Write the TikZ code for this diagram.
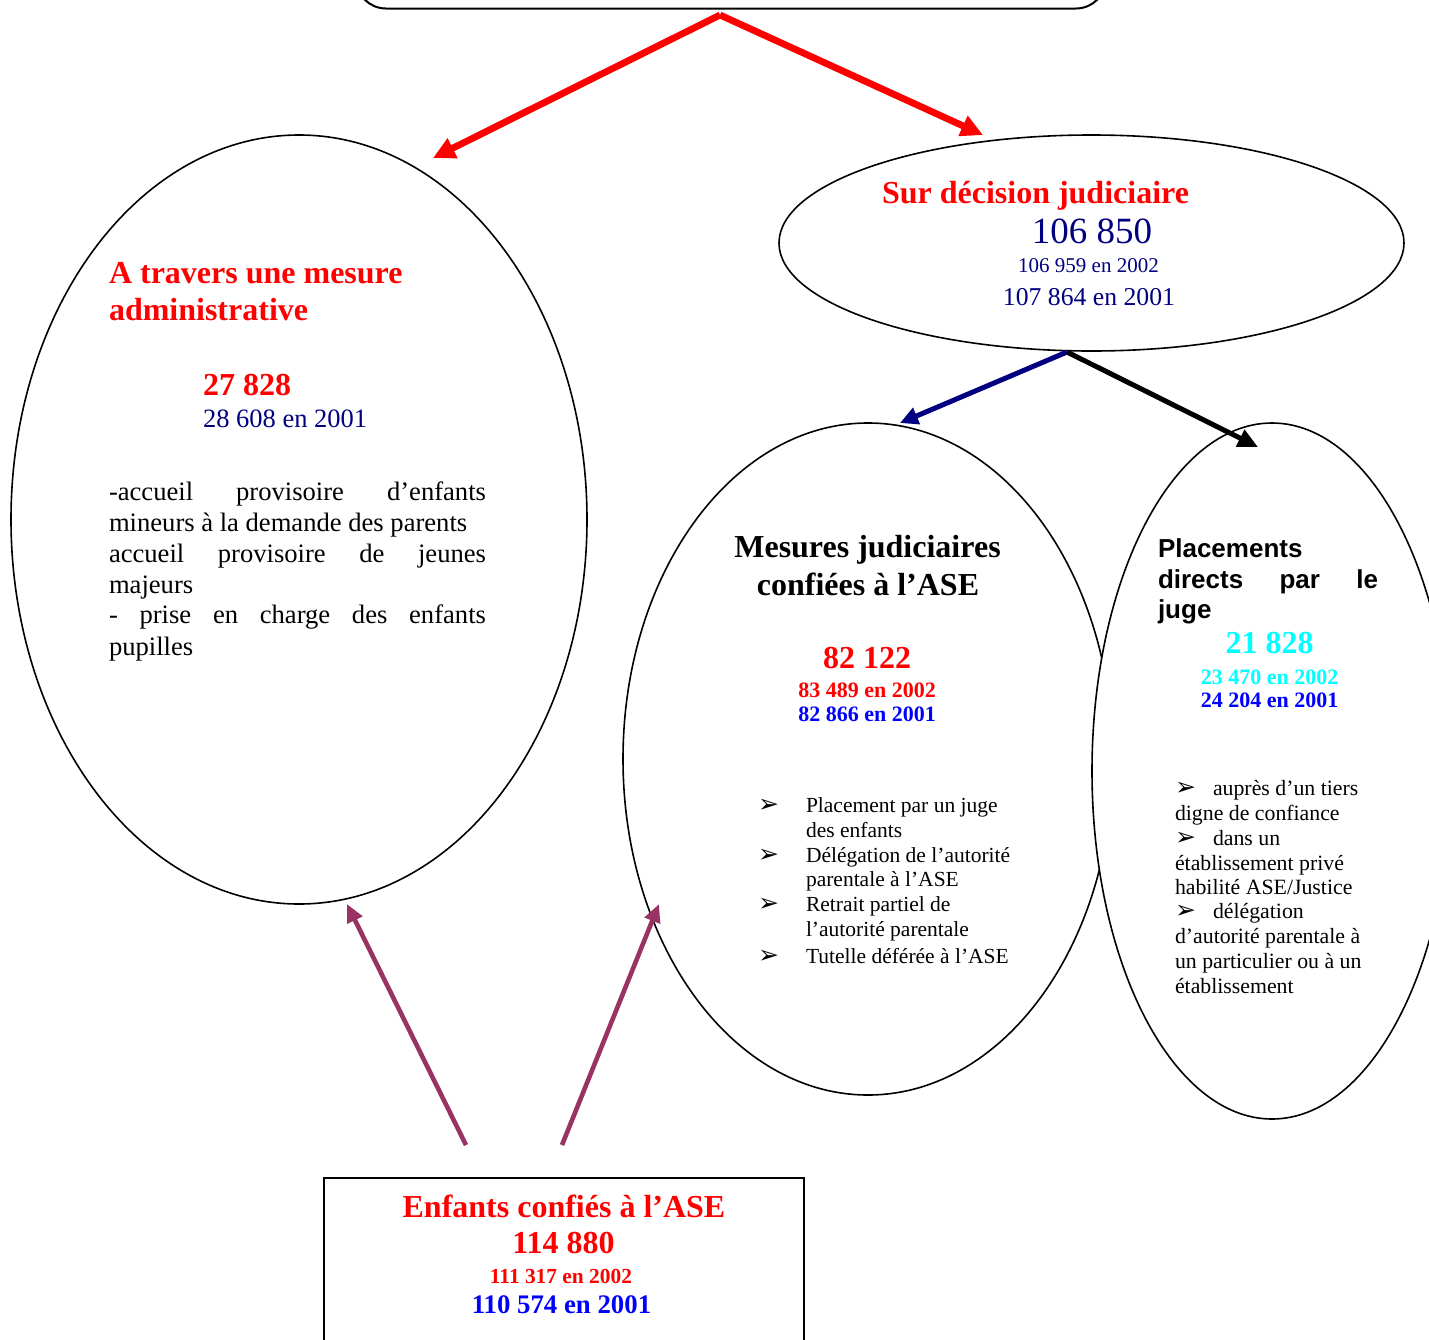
\documentclass[tikz,border=0pt]{standalone}
\usepackage{fontspec}
\setmainfont{Liberation Serif}
\newfontfamily\arialf{Liberation Sans}
\newfontfamily\dvf{DejaVu Sans}
\usetikzlibrary{shapes.geometric,arrows.meta}
\definecolor{cred}{HTML}{FF0000}
\definecolor{cnavy}{HTML}{000080}
\definecolor{cblue}{HTML}{0000FF}
\definecolor{ccyan}{HTML}{00FFFF}
\definecolor{cpurp}{HTML}{993366}
\newcommand{\fsz}[1]{\fontsize{#1pt}{#1pt}\selectfont}
\newcommand{\bul}{{\dvf\fontsize{12.5pt}{12.5pt}\selectfont ➢}}
\begin{document}
\begin{tikzpicture}[x=0.5pt,y=-0.5pt,
  txt/.style={inner sep=0pt, outer sep=0pt},
  tb/.style={txt, anchor=base},
  tl/.style={txt, anchor=base west},
  oval/.style={draw, ellipse, line width=0.8pt, inner sep=0pt, outer sep=0pt},
  redarr/.style={draw=cred, line width=3.4pt, -{Triangle[length=11pt,width=10.5pt]}},
  navarr/.style={draw=cnavy, line width=2.5pt, -{Triangle[length=9pt,width=8.5pt]}},
  blkarr/.style={draw=black, line width=2.5pt, -{Triangle[length=10pt,width=9pt]}},
  purarr/.style={draw=cpurp, line width=2.3pt, -{Triangle[length=9pt,width=8pt]}}]
\useasboundingbox (0,0) rectangle (1429,1339);
\begin{scope}
\clip (0,0) rectangle (1429,1339);
% shapes
\node[draw, line width=1pt, rounded corners=15pt, minimum width=375pt, minimum height=40pt, inner sep=0pt, anchor=south west] (top) at (355,9.5) {};
\node[oval, minimum width=288pt, minimum height=384.5pt] (adm) at (299,519.5) {};
\node[oval, minimum width=312.5pt, minimum height=108pt] (jud) at (1091.5,243) {};
\node[oval, minimum width=245pt, minimum height=336pt] (mes) at (868,759) {};
\node[oval, fill=white, minimum width=180pt, minimum height=348pt] (plc) at (1272,771) {};
\node[draw, line width=1pt, minimum width=240pt, minimum height=100pt, inner sep=0pt, anchor=north west] (enf) at (323,1177) {};

% connector ends
\coordinate (topout) at (720,15);
\coordinate (admin) at (433,158);
\coordinate (judin) at (983,135);
\coordinate (judout) at (1067,352);
\coordinate (mesin) at (900,423);
\coordinate (plcin) at (1258,447);
\coordinate (enfoutL) at (466,1145);
\coordinate (enfoutR) at (562,1145);
\coordinate (adminB) at (347,904);
\coordinate (mesinB) at (659,904);

\draw[redarr] (topout) -- (admin);
\draw[redarr] (topout) -- (judin);
\draw[navarr] (judout) -- (mesin);
\draw[blkarr] (judout) -- (plcin);
\draw[purarr] (enfoutL) -- (adminB);
\draw[purarr] (enfoutR) -- (mesinB);

% jud texts
\node[tb, font=\bfseries\fsz{16}, text=cred] (j1) at (1035.5,203) {Sur décision judiciaire};
\node[tb, font=\fsz{18.5}, text=cnavy] (j2) at (1092,243) {106 850};
\node[tb, font=\fsz{10.5}, text=cnavy] (j3) at (1088.5,272) {106 959 en 2002};
\node[tb, font=\fsz{12.85}, text=cnavy] (j4) at (1089,305) {107 864 en 2001};

% adm texts
\node[tl, font=\bfseries\fsz{16}, text=cred] (a1) at (109,283) {A travers une mesure};
\node[tl, font=\bfseries\fsz{16}, text=cred] (a2) at (109,320.5) {administrative};
\node[tl, font=\bfseries\fsz{16}, text=cred] (a3) at (203,395) {27 828};
\node[tl, font=\fsz{13.25}, text=cnavy] (a4) at (203,427) {28 608 en 2001};
\node[tl, font=\fsz{13.3}] (b1) at (109,500) {\makebox[188.5pt][s]{-accueil provisoire d’enfants}};
\node[tl, font=\fsz{13.3}] (b2) at (109,531.5) {mineurs à la demande des parents};
\node[tl, font=\fsz{13.3}] (b3) at (109,562) {\makebox[188.5pt][s]{accueil provisoire de jeunes}};
\node[tl, font=\fsz{13.3}] (b4) at (109,593) {majeurs};
\node[tl, font=\fsz{13.3}] (b5) at (109,623.5) {\makebox[188.5pt][s]{- prise en charge des enfants}};
\node[tl, font=\fsz{13.3}] (b6) at (109,655) {pupilles};

% mes texts
\node[tb, font=\bfseries\fsz{16}] (m1) at (867.5,557) {Mesures judiciaires};
\node[tb, font=\bfseries\fsz{16}] (m2) at (868,595) {confiées à l’ASE};
\node[tb, font=\bfseries\fsz{16}, text=cred] (m3) at (867,668) {82 122};
\node[tb, font=\bfseries\fsz{11}, text=cred] (m4) at (867,697) {83 489 en 2002};
\node[tb, font=\bfseries\fsz{11}, text=cblue] (m5) at (867,721) {82 866 en 2001};
\node[tl, font=\fsz{10.75}] (mb1) at (758,812) {\rlap{\bul}\hspace{24pt}Placement par un juge};
\node[tl, font=\fsz{10.75}] (mb2) at (806,837) {des enfants};
\node[tl, font=\fsz{10.75}] (mb3) at (758,862) {\rlap{\bul}\hspace{24pt}Délégation de l’autorité};
\node[tl, font=\fsz{10.75}] (mb4) at (806,886) {parentale à l’ASE};
\node[tl, font=\fsz{10.75}] (mb5) at (758,911) {\rlap{\bul}\hspace{24pt}Retrait partiel de};
\node[tl, font=\fsz{10.75}] (mb6) at (806,936) {l’autorité parentale};
\node[tl, font=\fsz{10.75}] (mb7) at (758,963) {\rlap{\bul}\hspace{24pt}Tutelle déférée à l’ASE};

% plc texts
\node[tl, font=\arialf\bfseries\fsz{13}] (p1) at (1158,557) {Placements};
\node[tl, font=\arialf\bfseries\fsz{13}] (p2) at (1158,588) {\makebox[110pt][s]{directs par le}};
\node[tl, font=\arialf\bfseries\fsz{13}] (p3) at (1158,618) {juge};
\node[tb, font=\bfseries\fsz{16}, text=ccyan] (p4) at (1269.5,653) {21 828};
\node[tb, font=\bfseries\fsz{11}, text=ccyan] (p5) at (1269.5,684) {23 470 en 2002};
\node[tb, font=\bfseries\fsz{11}, text=cblue] (p6) at (1269.5,707) {24 204 en 2001};
\node[tl, font=\fsz{10.9}] (pb1) at (1175,795) {\rlap{\bul}\hspace{19pt}auprès d’un tiers};
\node[tl, font=\fsz{10.9}] (pb2) at (1175,820) {digne de confiance};
\node[tl, font=\fsz{10.9}] (pb3) at (1175,845) {\rlap{\bul}\hspace{19pt}dans un};
\node[tl, font=\fsz{10.9}] (pb4) at (1175,870) {établissement privé};
\node[tl, font=\fsz{10.9}] (pb5) at (1175,894) {habilité ASE/Justice};
\node[tl, font=\fsz{10.9}] (pb6) at (1175,918) {\rlap{\bul}\hspace{19pt}délégation};
\node[tl, font=\fsz{10.9}] (pb7) at (1175,943) {d’autorité parentale à};
\node[tl, font=\fsz{10.9}] (pb8) at (1175,968) {un particulier ou à un};
\node[tl, font=\fsz{10.9}] (pb9) at (1175,993) {établissement};

% enf texts
\node[tb, font=\bfseries\fsz{16}, text=cred] (e1) at (564,1217) {Enfants confiés à l’ASE};
\node[tb, font=\bfseries\fsz{16}, text=cred] (e2) at (563.5,1253) {114 880};
\node[tb, font=\bfseries\fsz{10.7}, text=cred] (e3) at (561,1283) {111 317 en 2002};
\node[tb, font=\bfseries\fsz{13.4}, text=cblue] (e4) at (561.5,1313) {110 574 en 2001};
\end{scope}
\end{tikzpicture}
\end{document}
